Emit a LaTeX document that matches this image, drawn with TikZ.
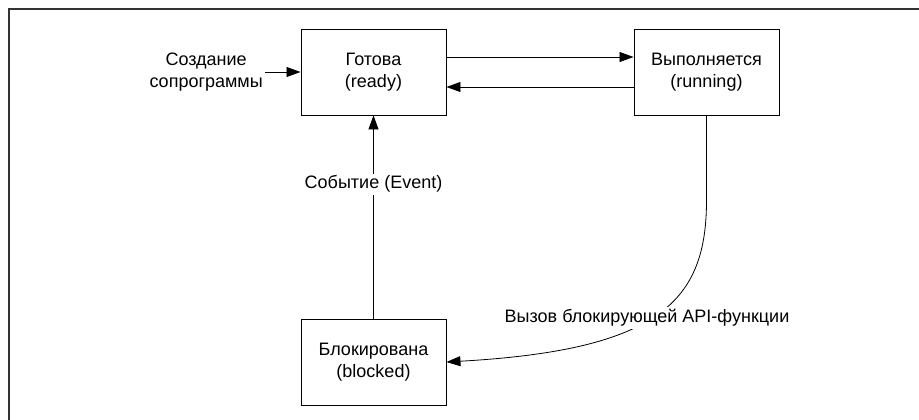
\documentclass[tikz,border=0pt]{standalone}
\usepackage{fontspec}
\setmainfont{Liberation Sans}
\usetikzlibrary{arrows.meta}
\begin{document}
\begin{tikzpicture}[x=1pt,y=-1pt,
  state/.style={draw, line width=0.9pt, minimum width=145pt, minimum height=86pt, align=center, inner sep=0pt, font=\fontsize{18}{22.5}\selectfont},
  lbl/.style={align=center, font=\fontsize{18}{22.5}\selectfont, inner sep=2pt},
  arr/.style={line width=0.8pt, -{Triangle[length=14pt,width=10pt]}},
  frame/.style={line width=1.6pt, draw=black!80}
]
\useasboundingbox (0,0) rectangle (919,420);
\draw[frame] (9,421) -- (9,9) -- (920,9);
\node[state] (ready) at (373.5,72) {Готова\\(ready)};
\node[state] (running) at (706.5,72) {Выполняется\\(running)};
\node[state] (blocked) at (373.5,362) {Блокирована\\(blocked)};
\node[lbl, anchor=east] (create) at (265,72) {Создание\\сопрограммы};
\draw[arr] (create.east) -- (ready.west);
\draw[arr] ([yshift=15pt]ready.east) -- ([yshift=15pt]running.west);
\draw[arr] ([yshift=-15pt]running.west) -- ([yshift=-15pt]ready.east);
\draw[arr] (blocked) -- node[lbl, fill=white, pos=0.662] (event) {Событие (Event)} (ready);
\draw[arr] (running.south) -- ++(0,85) .. controls +(0,100) and +(214,-12) .. (blocked.east);
\node[lbl, fill=white] (call) at (647,318) {Вызов блокирующей API-функции};
\end{tikzpicture}
\end{document}
